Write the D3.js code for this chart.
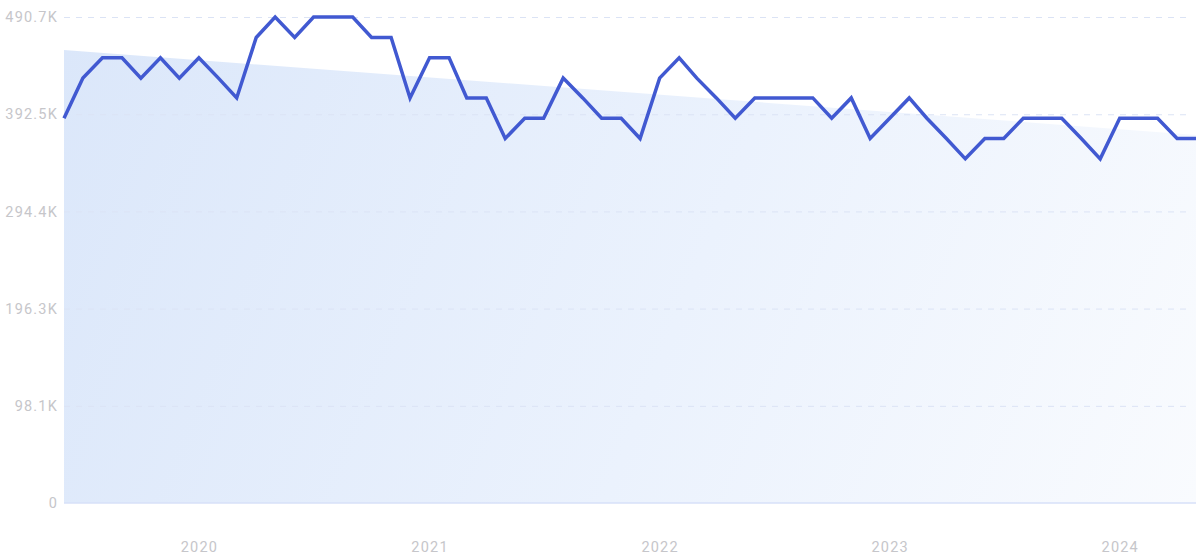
<!DOCTYPE html>
<html>
<head>
<meta charset="utf-8">
<script src="https://cdn.jsdelivr.net/npm/d3@7"></script>
<style>
  html, body { margin: 0; padding: 0; background: #ffffff; }
  svg { display: block; }
  .tick text { font-family: Roboto, "Noto Sans", sans-serif; letter-spacing: 1.2px; }
</style>
</head>
<body>
<svg id="chart" width="1200" height="558"></svg>
<script>
// ---- Data ----
const startMonth = "2019-06";
// monthly values (thousands), Jun 2019 .. May 2024
const values = [
  388.5, 429, 449.5, 449.5, 429, 449.5, 429, 449.5, 429, 409,
  470, 490.7, 470, 490.7, 490.7, 490.7, 470, 470, 409, 449.5,
  449.5, 409, 409, 368, 388.5, 388.5, 429, 409, 388.5, 388.5,
  368, 429, 449.5, 429, 409, 388.5, 409, 409, 409, 409,
  388.5, 409, 368, 388.5, 409, 388.5, 368, 347.5, 368, 368,
  388.5, 388.5, 388.5, 368, 347.5, 388.5, 388.5, 388.5, 368, 368
];
const trendValues = [457.4, 371.6];
const yTicks = [0, 98.1, 196.3, 294.4, 392.5, 490.7];
const yTickLabels = ["0", "98.1K", "196.3K", "294.4K", "392.5K", "490.7K"];
const xTickYears = ["2020", "2021", "2022", "2023", "2024"];

// ---- Build ----
const parse = d3.timeParse("%Y-%m");
const t0 = parse(startMonth);
const data = values.map((v, i) => ({ date: d3.timeMonth.offset(t0, i), value: v }));
const tEnd = data[data.length - 1].date;

const svg = d3.select("#chart");
const margin = { left: 64, right: 4, top: 17, bottom: 55 };
const W = 1200, H = 558;

const x = d3.scaleTime().domain([t0, tEnd]).range([margin.left, W - margin.right]);
const y = d3.scaleLinear().domain([0, 490.7]).range([H - margin.bottom, margin.top]);

// gradient for trend area
const defs = svg.append("defs");
const grad = defs.append("linearGradient")
  .attr("id", "areaGrad")
  .attr("gradientUnits", "userSpaceOnUse")
  .attr("x1", x(t0)).attr("y1", y(460))
  .attr("x2", x(tEnd)).attr("y2", y(0));
grad.append("stop").attr("offset", "0%").attr("stop-color", "#dbe7fa");
grad.append("stop").attr("offset", "55%").attr("stop-color", "#ebf2fd");
grad.append("stop").attr("offset", "100%").attr("stop-color", "#f9fbfe");

// trend area
const trendData = [
  { date: t0, value: trendValues[0] },
  { date: tEnd, value: trendValues[1] }
];
svg.append("path")
  .datum(trendData)
  .attr("fill", "url(#areaGrad)")
  .attr("d", d3.area().x(d => x(d.date)).y0(y(0)).y1(d => y(d.value)));

// y grid + labels
const yAxis = d3.axisLeft(y)
  .tickValues(yTicks)
  .tickFormat((d, i) => yTickLabels[i])
  .tickSize(0)
  .tickPadding(6);
const gy = svg.append("g")
  .attr("transform", `translate(${margin.left},0)`)
  .call(yAxis);
gy.select(".domain").remove();
gy.selectAll(".tick text")
  .attr("fill", "#c6c6ca")
  .attr("font-size", "14.5px");
gy.selectAll(".tick")
  .filter(d => d !== 0)
  .append("line")
  .attr("x1", 0)
  .attr("x2", 1190 - margin.left)
  .attr("stroke", "#dbe3f5")
  .attr("stroke-width", 1)
  .attr("stroke-dasharray", "6,6");

// baseline
svg.append("line")
  .attr("x1", x(t0)).attr("x2", x(tEnd))
  .attr("y1", y(0)).attr("y2", y(0))
  .attr("stroke", "#d7e0f8")
  .attr("stroke-width", 1.5);

// x axis
const xAxis = d3.axisBottom(x)
  .tickValues(xTickYears.map(s => d3.timeParse("%Y")(s)))
  .tickFormat(d3.timeFormat("%Y"))
  .tickSize(0)
  .tickPadding(0);
const gx = svg.append("g")
  .attr("transform", `translate(0,${H - margin.bottom + 39})`)
  .call(xAxis);
gx.select(".domain").remove();
gx.selectAll(".tick text")
  .attr("fill", "#c6c6ca")
  .attr("font-size", "14.5px");

// line
svg.append("path")
  .datum(data)
  .attr("fill", "none")
  .attr("stroke", "#4159d1")
  .attr("stroke-width", 3.5)
  .attr("stroke-linejoin", "miter")
  .attr("d", d3.line().x(d => x(d.date)).y(d => y(d.value)));
</script>
</body>
</html>
